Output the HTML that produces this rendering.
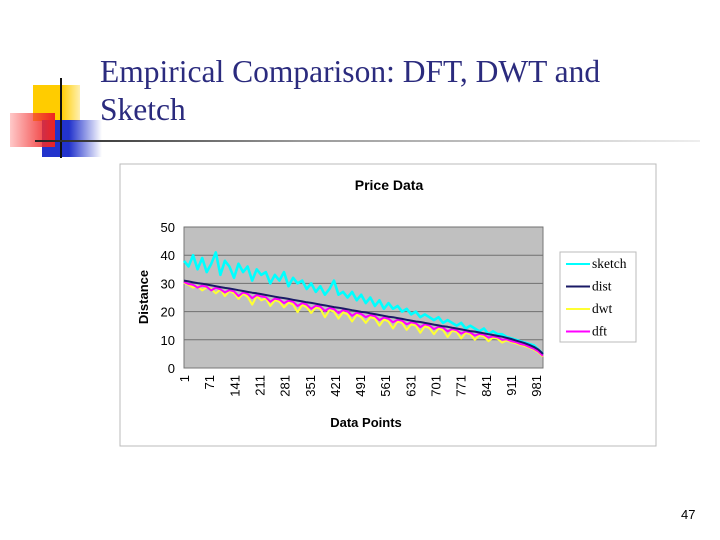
<!DOCTYPE html>
<html><head><meta charset="utf-8"><style>
body{margin:0;width:720px;height:540px;background:#fff;position:relative;overflow:hidden;font-family:"Liberation Sans",sans-serif}
.t{position:absolute;left:100px;top:53px;font-family:"Liberation Serif",serif;font-size:31.5px;line-height:38px;color:#2b2b7e}
</style></head><body>
<div>
<div style="position:absolute;left:33px;top:85px;width:47px;height:36px;background:linear-gradient(90deg,#ffcc00 60%,#fff0b0)"></div>
<div style="position:absolute;left:42px;top:120px;width:60px;height:37px;background:linear-gradient(90deg,#2233cc 45%,rgba(60,80,220,0) )"></div>
<div style="position:absolute;left:10px;top:113px;width:45px;height:34px;background:linear-gradient(90deg,rgba(255,120,120,0.4),#ee2222)"></div>
<div style="position:absolute;left:60px;top:78px;width:2px;height:80px;background:#111"></div>
</div>
<div style="position:absolute;left:35px;top:140px;width:665px;height:2px;background:linear-gradient(90deg,#222,#999 40%,#eee)"></div>
<div class="t">Empirical Comparison: DFT, DWT and<br>Sketch</div>
<div style="position:absolute;left:681px;top:507px;font-size:13px">47</div>
<svg width="720" height="540" style="position:absolute;left:0;top:0" id="svg"></svg>
<script>
const xTicks=[1,71,141,211,281,351,421,491,561,631,701,771,841,911,981];
const yTicks=[0,10,20,30,40,50];
const seriesNames=["sketch","dist","dwt","dft"];
const sketch=[38,36,40,35,39,34,37,41,33,38,36,32,37,34,36,31,35,33,34,30,33,31,34,29,32,30,31,28,30,27,29,26,28,31,26,27,25,27,24,26,23,25,22,24,21,23,21,22,20,21,19,20,18,19,18,17,18,16,17,16,15,16,14,15,14,13,14,12,13,12,12,11,10.5,10,9.5,9,8.5,8,6.5,5];
const dist=[31.0,30.7,30.4,30.1,29.9,29.6,29.3,29.0,28.7,28.4,28.2,27.9,27.6,27.3,27.0,26.7,26.5,26.2,25.9,25.6,25.3,25.0,24.8,24.5,24.2,23.9,23.6,23.3,23.1,22.8,22.5,22.2,21.9,21.6,21.4,21.1,20.8,20.5,20.2,19.9,19.7,19.4,19.1,18.8,18.5,18.2,18.0,17.7,17.4,17.1,16.8,16.5,16.3,16.0,15.7,15.4,15.1,14.8,14.6,14.3,14.0,13.7,13.4,13.1,12.9,12.6,12.3,12.0,11.7,11.4,11.1,10.7,10.3,9.8,9.3,8.8,8.2,7.5,6.5,5.0];
const dft=[30.5,29.8,29.5,28.5,29.2,28.8,27.5,28.5,27.9,26.8,27.6,27.2,25.5,26.8,26.3,24.8,25.9,25.4,25.1,23.5,24.6,24.3,23.0,23.9,23.5,22.0,23.0,22.5,21.0,22.1,21.8,20.2,21.3,20.9,19.5,20.5,20.1,18.5,19.6,19.2,18.0,18.8,18.4,17.0,17.9,17.5,16.2,17.1,16.8,15.5,16.2,15.9,14.5,15.5,15.1,13.8,14.6,14.3,13.0,13.8,13.4,12.2,13.0,12.6,11.5,12.1,11.8,10.8,11.2,10.9,10.0,10.2,9.5,9.2,8.5,8.2,7.5,6.8,5.8,4.3];
const dwt=[30.2,29.5,28.5,29.0,27.5,28.6,28.0,26.5,27.8,25.5,27.3,26.5,24.5,26.4,25.2,22.5,25.5,24.0,24.7,22.0,24.0,23.5,21.5,23.2,22.5,19.8,22.4,21.5,19.5,21.5,21.0,18.0,20.5,20.0,17.5,19.8,19.0,16.5,18.9,18.0,16.0,18.0,17.5,15.0,17.2,16.5,14.0,16.5,16.0,13.5,15.5,15.0,12.5,14.8,14.2,12.0,14.0,13.5,11.0,13.2,12.8,10.5,12.5,12.0,10.0,11.6,11.2,9.5,10.8,10.4,9.0,9.8,9.2,8.8,8.2,7.8,7.2,6.5,5.5,4.0];
const svg=document.getElementById('svg');const NS='http://www.w3.org/2000/svg';
const X0=184,X1=543,Y0=368,Y1=227;
const xs=i=>X0+(i-1)/(1000-1)*(X1-X0);
const ys=v=>Y0-v/50*(Y0-Y1);
function mk(t,a,p){const e=document.createElementNS(NS,t);for(const k in a)e.setAttribute(k,a[k]);(p||svg).appendChild(e);return e;}
let e;
e=mk('rect',{x:120,y:164,width:536,height:282,fill:'#fff',stroke:'#bbb'});


e=mk('rect',{x:X0,y:Y1,width:X1-X0,height:Y0-Y1,fill:'#c0c0c0',stroke:'#777'});


yTicks.forEach(v=>{
 if(v>0){e=mk('line',{x1:X0,x2:X1,y1:ys(v),y2:ys(v),stroke:'#707070'});
 
 }
 e=mk('text',{x:X0-9,y:ys(v)+5,'text-anchor':'end','font-size':13,fill:'#000'});e.textContent=v;
 
 
});
xTicks.forEach(v=>{const x=xs(v);
 e=mk('text',{x:0,y:0,'text-anchor':'end','font-size':13,transform:`translate(${x+5},${Y0+7}) rotate(-90)`});e.textContent=v;
 
 
});
function series(arr,col,name,w){const n=arr.length;
 const pts=arr.map((v,i)=>xs(1+i*(999/(n-1))).toFixed(1)+','+ys(v).toFixed(1)).join(' ');
 e=mk('polyline',{points:pts,fill:'none',stroke:col,'stroke-width':w,'stroke-linejoin':'round'});
 
 }
series(sketch,'#00ffff','sketch',2.6);series(dwt,'#ffff33','dwt',2);series(dft,'#ff00ff','dft',2);series(dist,'#1a1a66','dist',2);
e=mk('text',{x:389,y:190,'text-anchor':'middle','font-size':14,'font-weight':'bold'});e.textContent='Price Data';


e=mk('text',{x:366,y:427,'text-anchor':'middle','font-size':13,'font-weight':'bold'});e.textContent='Data Points';


e=mk('text',{x:0,y:0,'text-anchor':'middle','font-size':13,'font-weight':'bold',transform:'translate(148,297) rotate(-90)'});e.textContent='Distance';


e=mk('rect',{x:560,y:252,width:76,height:90,fill:'#fff',stroke:'#bbb'});


const cols=['#00ffff','#1a1a66','#ffff33','#ff00ff'];
seriesNames.forEach((s,i)=>{const y=264+i*22.5;
 e=mk('line',{x1:566,x2:590,y1:y,y2:y,stroke:cols[i],'stroke-width':2});
 
 
 e=mk('text',{x:592,y:y+4,'font-size':13.5,'font-family':'Liberation Serif,serif'});e.textContent=s;
 
 
});
</script>
</body></html>
